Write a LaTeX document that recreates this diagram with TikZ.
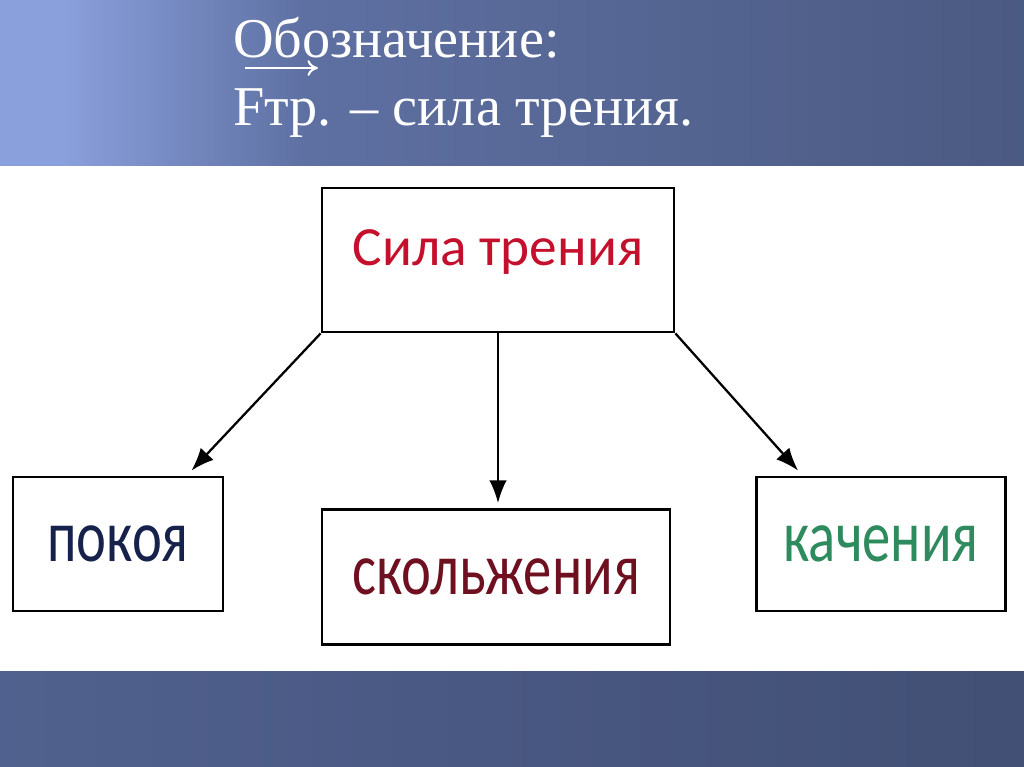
\documentclass[tikz,border=0pt]{standalone}
\usepackage{graphicx}
\usepackage{fontspec}
\setmainfont{Liberation Serif}
\newfontfamily\boxfont{Carlito}
\usetikzlibrary{arrows.meta}

\definecolor{bandA}{HTML}{8AA0DC}
\definecolor{bandB}{HTML}{5E70A2}
\definecolor{bandC}{HTML}{3E4A6B}
\definecolor{lowA}{HTML}{5A6C9C}
\definecolor{lowB}{HTML}{4A5984}
\definecolor{lowC}{HTML}{3B4868}
\definecolor{silared}{HTML}{C4102C}
\definecolor{skolred}{HTML}{6E1020}
\definecolor{pokblue}{HTML}{16224C}
\definecolor{kachgreen}{HTML}{2E8B5E}

\pgfdeclarehorizontalshading{topband}{100bp}{color(0bp)=(bandA); color(28bp)=(bandA); color(40bp)=(bandB); color(100bp)=(bandC)}
\pgfdeclarehorizontalshading{lowband}{100bp}{color(0bp)=(lowA); color(45bp)=(lowB); color(100bp)=(lowC)}

% lower words are drawn stretched upwards
\newcommand{\tallword}[1]{\scalebox{1.075}[1.4]{#1}}

\tikzset{box/.style = {draw, line width=1.6pt, fill=white, inner sep=0pt, font=\boxfont\fontsize{30}{36}\selectfont}}
\tikzset{arr/.style = {-{Latex[length=13pt,width=10pt]}, line width=1.3pt}}
\tikzset{title/.style = {anchor=base west, inner sep=0pt, text=white, font=\fontsize{32}{38}\selectfont}}

\begin{document}
\begin{tikzpicture}[x=0.02cm, y=-0.02cm]
        \useasboundingbox (0,0) rectangle (1024,767);
        \fill[white] (0,0) rectangle (1024,767);
        \shade[shading=topband] (0,0) rectangle (1024,165);
        \shade[shading=lowband] (0,671) rectangle (1024,767);

        \node[title] (t1) at (233,58) {Обозначение:};
        \node[title] (t2) at (233,126) {Fтр. – сила трения.};
        \draw[white, line width=1.2pt, -{To[length=6pt,width=9pt]}] ([xshift=0.24cm, yshift=-0.2cm]t1.base west) -- ++(1.46cm,0);

        \node[box, minimum width=7.04cm, minimum height=2.88cm, text=silared, font=\boxfont\fontsize{31.5}{36}\selectfont,
              text height=20pt, text depth=13.5pt] (sila) at (498,260) {Сила трения};
        \node[box, minimum width=4.2cm, minimum height=2.68cm, text=pokblue] (pokoy) at (118,544) {\tallword{покоя}};
        \node[box, minimum width=6.96cm, minimum height=2.7cm, text=skolred] (skol) at (496,577) {\tallword{скольжения}};
        \node[box, minimum width=4.98cm, minimum height=2.68cm, text=kachgreen] (kach) at (881,544) {\tallword{качения}};

        \draw[arr] (sila.south west) -- ([xshift=-0.66cm, yshift=0.1cm]pokoy.north east);
        \draw[arr] (sila.south) -- ([yshift=0.1cm]sila.south |- skol.north);
        \draw[arr] (sila.south east) -- ([xshift=0.86cm, yshift=0.1cm]kach.north west);
      \end{tikzpicture}
\end{document}
